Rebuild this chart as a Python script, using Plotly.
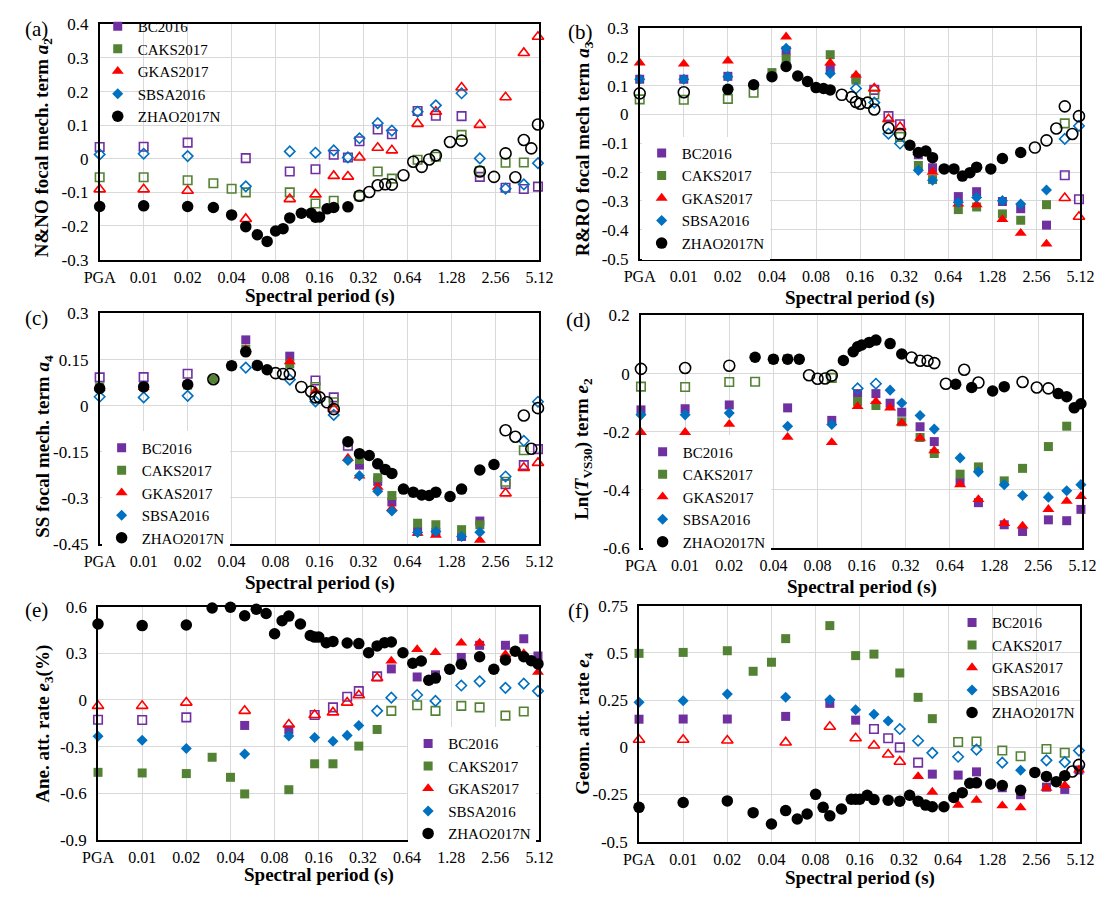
import math
import plotly.graph_objects as go

# ---------------- data ----------------
PGA_POS = 0.005  # position used for PGA on the log2-spaced period axis

P_ZHAO = ["PGA", "0.01", "0.02", "0.03", "0.04", "0.05", "0.06", "0.07", "0.08", "0.09", "0.1",
          "0.12", "0.14", "0.15", "0.16", "0.18", "0.2", "0.25", "0.3", "0.35", "0.4", "0.45",
          "0.5", "0.6", "0.7", "0.8", "0.9", "1.0", "1.25", "1.5", "2.0", "2.5", "3.0", "3.5",
          "4.0", "4.5", "5.0"]
P_STD = ["PGA", "0.01", "0.02", "0.05", "0.1", "0.15", "0.2", "0.25", "0.3", "0.4", "0.5",
         "0.75", "1.0", "1.5", "2.0", "3.0", "4.0", "5.0"]
P_CAKS = ["PGA", "0.01", "0.02", "0.03", "0.04", "0.05", "0.1", "0.15", "0.2", "0.3", "0.4",
          "0.5", "0.75", "1.0", "1.5", "2.0", "3.0", "4.0"]

X_TICKS = ["PGA", "0.01", "0.02", "0.04", "0.08", "0.16", "0.32", "0.64", "1.28", "2.56", "5.12"]

MODELS = ["BC2016", "CAKS2017", "GKAS2017", "SBSA2016", "ZHAO2017N"]

# (a) N&NO focal mechanism term a2  (fill flag: 1 = filled marker, 0 = open marker)
A_BC = [0.035, 0.036, 0.048, 0.002, -0.038, -0.031, 0.012, 0.004, 0.052, 0.087, 0.073, 0.142,
        0.128, 0.127, -0.054, -0.086, -0.090, -0.083]
A_BC_F = [0] * 18
A_CAKS = [-0.055, -0.055, -0.064, -0.073, -0.089, -0.100, -0.100, -0.133, -0.125, -0.111,
          -0.038, -0.059, -0.003, 0.006, 0.071, -0.037, -0.012, -0.011]
A_CAKS_F = [0] * 18
A_GKAS = [-0.091, -0.091, -0.095, -0.179, -0.120, -0.106, -0.051, -0.053, 0.004, 0.033, 0.025,
          0.104, 0.140, 0.212, 0.101, 0.183, 0.315, 0.363]
A_GKAS_F = [0] * 18
A_SBSA = [0.013, 0.015, 0.008, -0.082, 0.022, 0.018, 0.025, 0.004, 0.061, 0.106, 0.084, 0.140,
          0.159, 0.195, 0.001, -0.089, -0.076, -0.013]
A_SBSA_F = [0] * 18
A_ZHAO = [-0.142, -0.140, -0.142, -0.145, -0.167, -0.202, -0.226, -0.246, -0.215, -0.208, -0.176,
          -0.162, -0.162, -0.174, -0.173, -0.149, -0.145, -0.143, -0.110, -0.099, -0.079, -0.076,
          -0.077, -0.049, -0.009, -0.024, -0.002, 0.010, 0.050, 0.054, -0.038, -0.054, 0.016,
          -0.055, 0.056, 0.031, 0.102]
A_ZHAO_F = [1] * 18 + [0] * 19

# (b) R&RO focal mechanism term a3
B_BC = [0.122, 0.122, 0.132, 0.221, 0.156, 0.125, 0.085, -0.006, -0.034, -0.140, -0.185, -0.285,
        -0.268, -0.302, -0.327, -0.384, -0.211, -0.294]
B_BC_F = [1, 1, 1, 1, 1, 1, 0, 0, 0, 1, 1, 1, 1, 1, 1, 1, 0, 0]
B_CAKS = [0.052, 0.051, 0.054, 0.075, 0.145, 0.193, 0.207, 0.119, 0.069, -0.078, -0.177, -0.226,
          -0.330, -0.321, -0.345, -0.367, -0.313, -0.031]
B_CAKS_F = [0, 0, 0, 0, 1, 1, 1, 1, 0, 0, 1, 1, 1, 1, 1, 1, 1, 0]
B_GKAS = [0.179, 0.175, 0.186, 0.269, 0.179, 0.137, 0.090, -0.017, -0.044, -0.132, -0.200, -0.310,
          -0.313, -0.364, -0.412, -0.449, -0.290, -0.355]
B_GKAS_F = [1, 1, 1, 1, 1, 1, 0, 0, 0, 1, 1, 1, 1, 1, 1, 1, 0, 0]
B_SBSA = [0.122, 0.122, 0.131, 0.229, 0.142, 0.090, 0.041, -0.067, -0.101, -0.194, -0.228, -0.305,
          -0.288, -0.299, -0.311, -0.262, -0.085, -0.040]
B_SBSA_F = [1, 1, 1, 1, 1, 0, 0, 0, 0, 1, 1, 1, 1, 1, 1, 1, 0, 0]
B_ZHAO = [0.073, 0.077, 0.087, 0.103, 0.131, 0.166, 0.133, 0.114, 0.093, 0.090, 0.085, 0.068,
          0.060, 0.043, 0.037, 0.041, 0.017, -0.047, -0.068, -0.107, -0.132, -0.127, -0.150,
          -0.189, -0.189, -0.214, -0.202, -0.183, -0.189, -0.153, -0.132, -0.115, -0.090, -0.049,
          0.028, -0.068, -0.006]
B_ZHAO_F = [0, 0] + [1] * 9 + [0] * 8 + [1] * 12 + [0] * 6

# (c) SS focal mechanism term a4
C_BC = [0.092, 0.093, 0.104, 0.214, 0.161, 0.082, 0.027, -0.130, -0.193, -0.246, -0.313, -0.409,
        -0.412, -0.425, -0.375, -0.255, -0.193, -0.141]
C_BC_F = [0, 0, 0, 1, 1, 0, 0, 0, 1, 1, 1, 1, 1, 1, 1, 0, 0, 0]
C_CAKS = [0.061, 0.062, 0.067, 0.086, 0.130, 0.183, 0.136, 0.061, 0.011, -0.175, -0.234, -0.292,
          -0.382, -0.387, -0.403, -0.387, -0.247, -0.145]
C_CAKS_F = [1, 1, 1, 1, 1, 1, 1, 0, 0, 1, 1, 1, 1, 1, 1, 1, 0, 0]
C_GKAS = [0.058, 0.060, 0.072, 0.183, 0.143, 0.048, -0.011, -0.170, -0.228, -0.265, -0.334,
          -0.414, -0.421, -0.451, -0.437, -0.285, -0.202, -0.186]
C_GKAS_F = [1, 1, 1, 1, 1, 1, 0, 1, 1, 1, 1, 1, 1, 1, 1, 0, 0, 0]
C_SBSA = [0.029, 0.027, 0.032, 0.124, 0.085, 0.014, -0.030, -0.178, -0.228, -0.278, -0.342,
          -0.412, -0.409, -0.425, -0.411, -0.230, -0.114, 0.013]
C_SBSA_F = [0, 0, 0, 0, 0, 0, 0, 1, 1, 1, 1, 1, 1, 1, 1, 0, 0, 0]
C_ZHAO = [0.056, 0.061, 0.069, 0.086, 0.130, 0.175, 0.131, 0.117, 0.106, 0.103, 0.103, 0.061,
          0.046, 0.027, 0.027, 0.011, -0.011, -0.117, -0.156, -0.162, -0.189, -0.207, -0.220,
          -0.271, -0.281, -0.290, -0.292, -0.281, -0.295, -0.271, -0.209, -0.191, -0.080, -0.101,
          -0.032, -0.140, -0.008]
C_ZHAO_F = [1, 1, 1, 0, 1, 1, 1, 1] + [0] * 9 + [1] * 15 + [0] * 5

# (d) Ln(T_VS30) term e2
D_BC = [-0.125, -0.121, -0.108, -0.118, -0.161, -0.069, -0.069, -0.102, -0.133, -0.183, -0.234,
        -0.374, -0.444, -0.520, -0.543, -0.503, -0.506, -0.467]
D_BC_F = [1] * 18
D_CAKS = [-0.045, -0.046, -0.029, -0.028, 0.049, 0.051, -0.015, -0.096, -0.110, -0.166, -0.220,
          -0.275, -0.346, -0.321, -0.369, -0.326, -0.251, -0.181]
D_CAKS_F = [0, 0, 0, 0, 1, 1, 0, 1, 1, 1, 1, 1, 1, 1, 1, 1, 1, 1]
D_GKAS = [-0.202, -0.202, -0.174, -0.219, -0.237, -0.113, -0.096, -0.118, -0.170, -0.222, -0.265,
          -0.382, -0.433, -0.515, -0.524, -0.467, -0.439, -0.422]
D_GKAS_F = [1] * 18
D_SBSA = [-0.142, -0.142, -0.136, -0.181, -0.175, -0.051, -0.035, -0.057, -0.101, -0.144, -0.191,
          -0.290, -0.338, -0.382, -0.419, -0.425, -0.403, -0.382]
D_SBSA_F = [1, 1, 1, 1, 1, 0, 0, 1, 1, 1, 1, 1, 1, 1, 1, 1, 1, 1]
D_ZHAO = [0.016, 0.019, 0.027, 0.056, 0.049, 0.049, 0.049, -0.006, -0.018, -0.017, -0.007, 0.045,
          0.075, 0.092, 0.098, 0.107, 0.115, 0.103, 0.067, 0.055, 0.044, 0.044, 0.036, -0.035,
          -0.037, 0.013, -0.048, -0.031, -0.060, -0.045, -0.029, -0.048, -0.051, -0.069, -0.080,
          -0.118, -0.104]
D_ZHAO_F = ([0] * 3 + [1] * 4 + [0] * 4 + [1] * 8 + [0] * 5 + [1, 0, 1, 0, 1, 1, 0, 0, 0]
            + [1] * 4)

# (e) Anelastic attenuation rate e3 (%)
E_BC = [-0.127, -0.129, -0.112, -0.164, -0.192, -0.097, -0.048, 0.021, 0.057, 0.152, 0.200,
        0.148, 0.162, 0.274, 0.352, 0.352, 0.394, 0.283]
E_BC_F = [0, 0, 0, 1, 1, 0, 0, 0, 0, 0, 1, 1, 1, 1, 1, 1, 1, 1]
E_CAKS = [-0.466, -0.470, -0.474, -0.369, -0.498, -0.605, -0.578, -0.411, -0.411, -0.297, -0.190,
          -0.070, -0.034, -0.070, -0.038, -0.048, -0.101, -0.074]
E_CAKS_F = [1] * 11 + [0] * 7
E_GKAS = [-0.038, -0.038, -0.017, -0.070, -0.158, -0.097, -0.080, -0.017, 0.030, 0.141, 0.251,
          0.325, 0.306, 0.367, 0.367, 0.293, 0.299, 0.179]
E_GKAS_F = [0] * 10 + [1] * 8
E_SBSA = [-0.234, -0.259, -0.312, -0.348, -0.232, -0.242, -0.266, -0.228, -0.164, -0.070, 0.015,
          0.032, -0.006, 0.093, 0.120, 0.078, 0.105, 0.057]
E_SBSA_F = [1] * 9 + [0] * 9
E_ZHAO = [0.489, 0.479, 0.483, 0.592, 0.597, 0.542, 0.584, 0.557, 0.426, 0.510, 0.540, 0.489,
          0.415, 0.405, 0.405, 0.369, 0.377, 0.367, 0.363, 0.304, 0.348, 0.369, 0.373, 0.304,
          0.236, 0.251, 0.127, 0.141, 0.198, 0.230, 0.278, 0.198, 0.257, 0.314, 0.278, 0.253,
          0.232]
E_ZHAO_F = [1] * 37

# (f) Geometric attenuation rate e4
F_BC = [0.149, 0.150, 0.150, 0.164, 0.233, 0.144, 0.097, 0.048, 0.000, -0.081, -0.142, -0.147,
        -0.130, -0.214, -0.251, -0.211, -0.223, -0.120]
F_BC_F = [1, 1, 1, 1, 1, 1, 0, 0, 0, 0, 1, 1, 1, 1, 1, 1, 1, 1]
F_CAKS = [0.498, 0.503, 0.512, 0.403, 0.451, 0.576, 0.645, 0.486, 0.494, 0.394, 0.265, 0.152,
          0.028, 0.031, -0.017, -0.047, -0.009, -0.029]
F_CAKS_F = [1] * 12 + [0] * 6
F_GKAS = [0.040, 0.040, 0.036, 0.026, 0.109, 0.048, 0.010, -0.038, -0.076, -0.154, -0.237,
          -0.306, -0.280, -0.309, -0.320, -0.216, -0.202, -0.119]
F_GKAS_F = [0] * 9 + [1] * 9
F_SBSA = [0.239, 0.247, 0.282, 0.265, 0.252, 0.199, 0.175, 0.140, 0.097, 0.035, -0.029, -0.050,
          -0.012, -0.081, -0.121, -0.069, -0.078, -0.017]
F_SBSA_F = [1] * 8 + [0] * 6 + [1, 0, 0, 0]
F_ZHAO = [-0.318, -0.292, -0.284, -0.346, -0.406, -0.335, -0.380, -0.353, -0.249, -0.318, -0.363,
          -0.327, -0.275, -0.275, -0.275, -0.254, -0.277, -0.280, -0.285, -0.254, -0.285, -0.306,
          -0.315, -0.315, -0.266, -0.240, -0.190, -0.188, -0.194, -0.202, -0.228, -0.133, -0.154,
          -0.182, -0.150, -0.128, -0.093]
F_ZHAO_F = [1] * 35 + [0] * 2

# ---------------- styling ----------------
W, H = 1112, 898
FONT = "Liberation Serif"
COLORS = {"BC2016": "#7030A0", "CAKS2017": "#548235", "GKAS2017": "#FF0000",
          "SBSA2016": "#0070C0", "ZHAO2017N": "#000000"}
SYMBOLS = {"BC2016": "square", "CAKS2017": "square", "GKAS2017": "triangle-up",
           "SBSA2016": "diamond", "ZHAO2017N": "circle"}
SIZES = {"BC2016": 9, "CAKS2017": 9, "GKAS2017": 10.5, "SBSA2016": 8.5, "ZHAO2017N": 11.5}
PERIODS = {"BC2016": P_STD, "CAKS2017": P_CAKS, "GKAS2017": P_STD, "SBSA2016": P_STD,
           "ZHAO2017N": P_ZHAO}


def per(label):
    return PGA_POS if label == "PGA" else float(label)


PANELS = [
    dict(tag="(a)", data=[(A_BC, A_BC_F), (A_CAKS, A_CAKS_F), (A_GKAS, A_GKAS_F),
                          (A_SBSA, A_SBSA_F), (A_ZHAO, A_ZHAO_F)],
         xpx=(86, 538), ypx=(15.7, 256), yr=(-0.3, 0.4),
         yt=[-0.3, -0.2, -0.1, 0, 0.1, 0.2, 0.3, 0.4],
         ytt=["-0.3", "-0.2", "-0.1", "0", "0.1", "0.2", "0.3", "0.4"],
         ytitle="<b>N&amp;NO focal mech. term <i>a</i><sub>2</sub></b>",
         ytx=28, yty=141, xty=293, lab=(21, 20), leg=(84, 1), bg="rgba(0,0,0,0)"),
    dict(tag="(b)", data=[(B_BC, B_BC_F), (B_CAKS, B_CAKS_F), (B_GKAS, B_GKAS_F),
                          (B_SBSA, B_SBSA_F), (B_ZHAO, B_ZHAO_F)],
         xpx=(641, 1094), ypx=(19.3, 255), yr=(-0.5, 0.3),
         yt=[-0.5, -0.4, -0.3, -0.2, -0.1, 0, 0.1, 0.2, 0.3],
         ytt=["-0.5", "-0.4", "-0.3", "-0.2", "-0.1", "0", "0.1", "0.2", "0.3"],
         ytitle="<b>R&amp;RO focal mech term <i>a</i><sub>3</sub></b>",
         ytx=584, yty=143, xty=295, lab=(580, 24), leg=(643, 130.6), bg="white"),
    dict(tag="(c)", data=[(C_BC, C_BC_F), (C_CAKS, C_CAKS_F), (C_GKAS, C_GKAS_F),
                          (C_SBSA, C_SBSA_F), (C_ZHAO, C_ZHAO_F)],
         xpx=(86, 538), ypx=(311, 546.7), yr=(-0.45, 0.3),
         yt=[-0.45, -0.3, -0.15, 0, 0.15, 0.3],
         ytt=["-0.45", "-0.3", "-0.15", "0", "0.15", "0.3"],
         ytitle="<b>SS focal mech. term <i>a</i><sub>4</sub></b>",
         ytx=28, yty=447, xty=586, lab=(21, 316), leg=(88, 431.6), bg="white"),
    dict(tag="(d)", data=[(D_BC, D_BC_F), (D_CAKS, D_CAKS_F), (D_GKAS, D_GKAS_F),
                          (D_SBSA, D_SBSA_F), (D_ZHAO, D_ZHAO_F)],
         xpx=(642.3, 1096), ypx=(313, 550.7), yr=(-0.6, 0.2),
         yt=[-0.6, -0.4, -0.2, 0, 0.2],
         ytt=["-0.6", "-0.4", "-0.2", "0", "0.2"],
         ytitle="<b>Ln(<i>T</i><sub>VS30</sub>) term <i>e</i><sub>2</sub></b>",
         ytx=582, yty=449, xty=590, lab=(578, 318), leg=(644, 435.7), bg="white"),
    dict(tag="(e)", data=[(E_BC, E_BC_F), (E_CAKS, E_CAKS_F), (E_GKAS, E_GKAS_F),
                          (E_SBSA, E_SBSA_F), (E_ZHAO, E_ZHAO_F)],
         xpx=(84.3, 538), ypx=(610.7, 848.7), yr=(-0.9, 0.6),
         yt=[-0.9, -0.6, -0.3, 0, 0.3, 0.6],
         ytt=["-0.9", "-0.6", "-0.3", "0", "0.3", "0.6"],
         ytitle="<b>Ane. att. rate <i>e</i><sub>3</sub>(%)</b>",
         ytx=28, yty=730, xty=885, lab=(21, 614), leg=(403, 733.7), bg="white"),
    dict(tag="(f)", data=[(F_BC, F_BC_F), (F_CAKS, F_CAKS_F), (F_GKAS, F_GKAS_F),
                          (F_SBSA, F_SBSA_F), (F_ZHAO, F_ZHAO_F)],
         xpx=(640.3, 1094), ypx=(609.7, 850.7), yr=(-0.5, 0.75),
         yt=[-0.5, -0.25, 0, 0.25, 0.5, 0.75],
         ytt=["-0.5", "-0.25", "0", "0.25", "0.5", "0.75"],
         ytitle="<b>Geom. att. rate <i>e</i><sub>4</sub></b>",
         ytx=583, yty=730, xty=888, lab=(578, 615), leg=(962, 610.2), bg="rgba(0,0,0,0)"),
]

fig = go.Figure()
layout = dict(width=W, height=H, margin=dict(l=0, r=0, t=0, b=0),
              paper_bgcolor="white", plot_bgcolor="white",
              font=dict(family=FONT, size=16, color="black"), showlegend=True)
annotations = []

tickvals = [per(t) for t in X_TICKS]
for i, p in enumerate(PANELS):
    n = "" if i == 0 else str(i + 1)
    xa, ya = "x" + n, "y" + n
    lg = "legend" + n
    for model, (vals, fill) in zip(MODELS, p["data"]):
        xs = [per(t) for t in PERIODS[model]]
        yf = [v if f else None for v, f in zip(vals, fill)]
        yo = [None if f else v for v, f in zip(vals, fill)]
        col = COLORS[model]
        fig.add_trace(go.Scatter(
            x=xs, y=yf, mode="markers", name=model, legend=lg, xaxis=xa, yaxis=ya,
            cliponaxis=False, showlegend=True,
            marker=dict(symbol=SYMBOLS[model], size=SIZES[model], color=col,
                        line=dict(width=0))))
        fig.add_trace(go.Scatter(
            x=xs, y=yo, mode="markers", name=model, legend=lg, xaxis=xa, yaxis=ya,
            cliponaxis=False, showlegend=False,
            marker=dict(symbol=SYMBOLS[model] + "-open", size=SIZES[model] - 0.5, color=col,
                        line=dict(width=1.6, color=col))))
    x0, x1 = p["xpx"]
    y0, y1 = p["ypx"]
    layout["xaxis" + n] = dict(
        domain=[x0 / W, x1 / W], anchor=ya, type="log",
        range=[math.log10(per("PGA")), math.log10(per(X_TICKS[-1]))],
        tickmode="array", tickvals=tickvals, ticktext=X_TICKS,
        showgrid=True, gridcolor="#D9D9D9", gridwidth=1, zeroline=False,
        showline=True, linecolor="black", linewidth=1.5, mirror=True,
        ticks="", ticklabelstandoff=2, tickfont=dict(family=FONT, size=16))
    layout["yaxis" + n] = dict(
        domain=[1 - y1 / H, 1 - y0 / H], anchor=xa, range=list(p["yr"]),
        tickmode="array", tickvals=p["yt"], ticktext=p["ytt"],
        showgrid=True, gridcolor="#D9D9D9", gridwidth=1, zeroline=False,
        showline=True, linecolor="black", linewidth=1.5, mirror=True,
        ticks="", ticklabelstandoff=6, tickfont=dict(family=FONT, size=17))
    lx, ly = p["leg"]
    layout[lg] = dict(x=lx / W, y=1 - ly / H, xanchor="left", yanchor="top",
                      bgcolor=p["bg"], borderwidth=0, font=dict(family=FONT, size=15),
                      tracegroupgap=0)
    annotations.append(dict(text=p["ytitle"], xref="paper", yref="paper",
                            x=p["ytx"] / W, y=1 - p["yty"] / H, textangle=-90,
                            showarrow=False, xanchor="center", yanchor="middle",
                            font=dict(family=FONT, size=19)))
    annotations.append(dict(text="<b>Spectral period (s)</b>", xref="paper", yref="paper",
                            x=(x0 + x1) / 2 / W, y=1 - p["xty"] / H, showarrow=False,
                            xanchor="center", yanchor="middle",
                            font=dict(family=FONT, size=19)))
    annotations.append(dict(text=p["tag"], xref="paper", yref="paper",
                            x=p["lab"][0] / W, y=1 - p["lab"][1] / H, showarrow=False,
                            xanchor="center", yanchor="middle",
                            font=dict(family=FONT, size=21)))

layout["annotations"] = annotations
fig.update_layout(**layout)
fig.write_html("out.html")
